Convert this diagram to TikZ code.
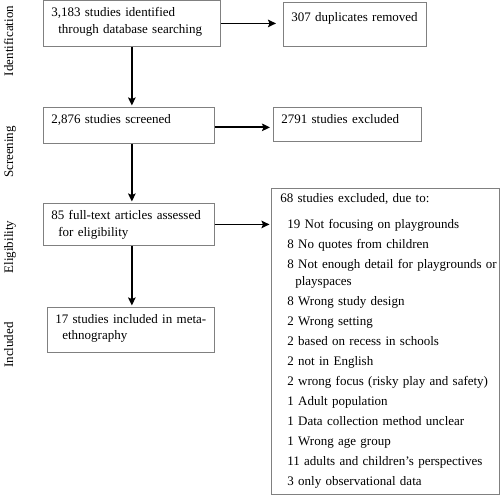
\documentclass[tikz,border=0pt]{standalone}
\usepackage{fontspec}
\setmainfont{Liberation Serif}
\usetikzlibrary{arrows.meta}

\tikzset{
  box/.style={draw=black!50, line width=0.7pt, anchor=north west, align=left,
    inner xsep=8pt, inner ysep=7pt, font=\fontsize{13}{16.5}\selectfont},
  flow/.style={-{Stealth[length=8pt, width=7.5pt, inset=1.5pt]}, line width=1.8pt, shorten >=1.5pt},
  stage/.style={rotate=90, anchor=base, font=\fontsize{13}{15}\selectfont}
}

\begin{document}
\begin{tikzpicture}[x=1pt, y=-1pt]
    \useasboundingbox (0,0) rectangle (500,495);

    % 段階ラベル
    \node[stage] (lid) at (13, 41) {Identification};
    \node[stage] (lsc) at (13, 152) {Screening};
    \node[stage] (lel) at (13, 247) {Eligibility};
    \node[stage] (lin) at (13, 345) {Included};

    % 左のボックス
    \node[box, text width=161pt, text depth=23pt] (ident) at (43, 0) {3,183 studies identified\\\hspace*{7pt}through database searching};
    \node[box, text width=155pt, text depth=13pt] (screen) at (43, 107) {2,876 studies screened};
    \node[box, text width=155pt, text depth=19pt] (elig) at (43, 203) {85 full-text articles assessed\\\hspace*{7pt}for eligibility};
    \node[box, text width=151pt, text depth=22pt] (incl) at (47, 307) {17 studies included in meta-\\\hspace*{7pt}ethnography};

    % 右のボックス
    \node[box, text width=127pt, text height=12pt, text depth=18pt] (dup) at (283, 2) {307 duplicates removed};
    \node[box, text width=132pt, text depth=11pt] (scrx) at (273, 107) {2791 studies excluded};
    \node[box, text width=220pt, inner xsep=4pt, inner ysep=5.5pt, font=\fontsize{13}{17}\selectfont] (excl) at (271, 188) {\hspace*{5pt}68 studies excluded, due to:\\[9pt]
      \hspace*{12pt}19 Not focusing on playgrounds\\[3pt]
      \hspace*{12pt}8 No quotes from children\\[3pt]
      \hspace*{12pt}\mbox{8 Not enough detail for playgrounds or}\\
      \hspace*{20pt}playspaces\\[3pt]
      \hspace*{12pt}8 Wrong study design\\[3pt]
      \hspace*{12pt}2 Wrong setting\\[3pt]
      \hspace*{12pt}2 based on recess in schools\\[3pt]
      \hspace*{12pt}2 not in English\\[3pt]
      \hspace*{12pt}2 wrong focus (risky play and safety)\\[3pt]
      \hspace*{12pt}1 Adult population\\[3pt]
      \hspace*{12pt}1 Data collection method unclear\\[3pt]
      \hspace*{12pt}1 Wrong age group\\[3pt]
      \hspace*{12pt}11 adults and children’s perspectives\\[3pt]
      \hspace*{12pt}3 only observational data};

    % 矢印
    \draw[flow] (ident.south) -- (ident.south |- screen.north);
    \draw[flow] (screen.south -| ident.south) -- (ident.south |- elig.north);
    \draw[flow] (elig.south -| ident.south) -- (ident.south |- incl.north);
    \draw[flow, shorten >=7pt] (ident.east) -- (ident.east -| dup.west);
    \draw[flow, shorten >=3pt] ([yshift=-2pt]screen.east) -- ([yshift=-2pt]screen.east -| scrx.west);
    \draw[flow] (elig.east) -- (elig.east -| excl.west);
  \end{tikzpicture}
\end{document}
